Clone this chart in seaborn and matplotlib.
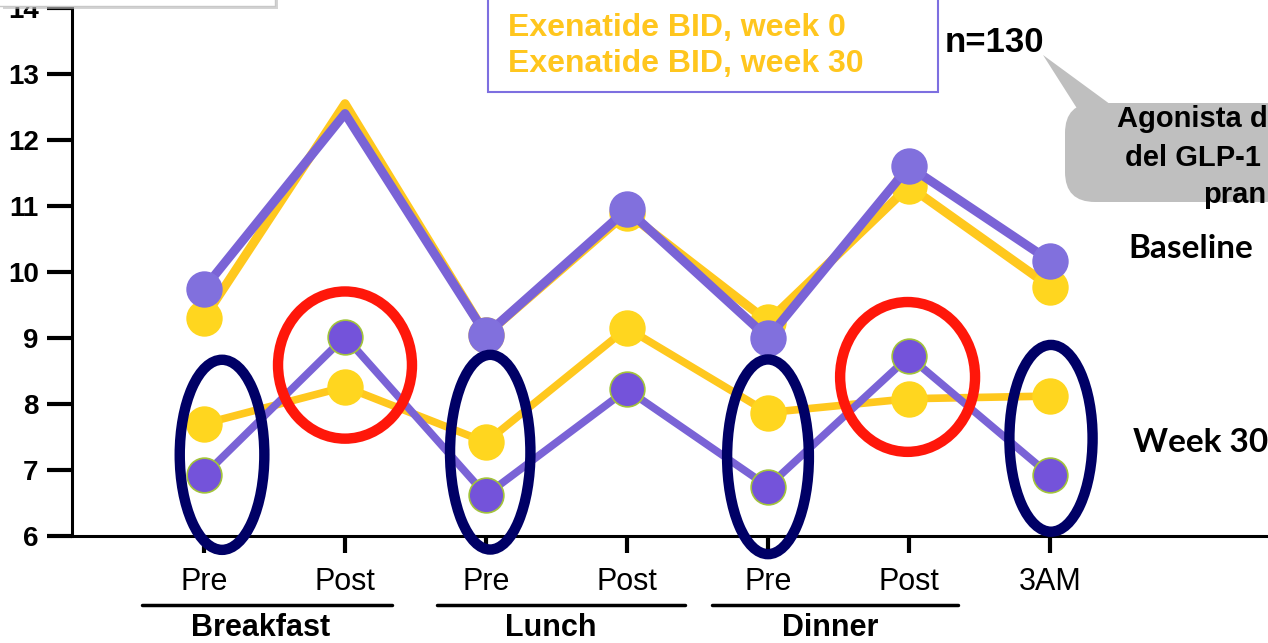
import numpy as np
import pandas as pd
import seaborn as sns
import matplotlib
matplotlib.use("Agg")
import matplotlib.pyplot as plt
from matplotlib.patches import Ellipse, Rectangle, FancyBboxPatch, Polygon

# ---- data -------------------------------------------------------------
tick_labels = ["Pre", "Post", "Pre", "Post", "Pre", "Post", "3AM"]
meals = ["Breakfast", "Lunch", "Dinner"]
meal_spans = [(-0.44, 1.33), (1.65, 3.41), (3.60, 5.35)]
meal_label_x = [0.40, 2.46, 4.44]

exenatide_w0 = [9.30, 12.55, 9.05, 10.90, 9.25, 11.30, 9.78]
comparator_w0 = [9.75, 12.40, 9.05, 10.95, 9.00, 11.60, 10.17]
exenatide_w30 = [7.70, 8.26, 7.42, 9.15, 7.87, 8.08, 8.12]
comparator_w30 = [6.92, 9.02, 6.62, 8.22, 6.75, 8.72, 6.92]

y_ticks = [6, 7, 8, 9, 10, 11, 12, 13, 14]

positions = np.arange(len(tick_labels))
df = pd.DataFrame({
    "pos": np.tile(positions, 4),
    "glucose": exenatide_w0 + comparator_w0 + exenatide_w30 + comparator_w30,
    "series": (["exe_w0"] * 7 + ["comp_w0"] * 7 + ["exe_w30"] * 7 + ["comp_w30"] * 7),
})

# ---- style ------------------------------------------------------------
sns.set_theme(style="white")
plt.rcParams["font.family"] = ["Liberation Sans", "DejaVu Sans"]

W, H, DPI = 1268, 643, 100
fig = plt.figure(figsize=(W / DPI, H / DPI), dpi=DPI)
fig.patch.set_facecolor("white")

# axes: left spine at x=72px, x-axis at y=536px, running to the right/top edges
ax = fig.add_axes([72 / W, 1 - 536 / H, 1 - 72 / W, 536 / H])
ax.set_facecolor("white")

yellow_line = "#FFC81E"
yellow_dot = "#FFD61F"
purple_line = "#7A63D6"
purple_dot0 = "#8170DD"
purple_dot30 = "#7453DA"

styles = {
    "exe_w0": dict(color=yellow_line, mfc=yellow_dot, mec=yellow_dot, lw=6.5, z=2, every=[0, 2, 3, 4, 5, 6]),
    "comp_w0": dict(color=purple_line, mfc=purple_dot0, mec=purple_dot0, lw=6.5, z=3, every=[0, 2, 3, 4, 5, 6]),
    "exe_w30": dict(color=yellow_line, mfc=yellow_dot, mec=yellow_dot, lw=5.5, z=4, every=None),
    "comp_w30": dict(color=purple_line, mfc=purple_dot30, mec="#A3C43A", lw=5.5, z=5, every=None),
}

for name, st in styles.items():
    sub = df[df["series"] == name]
    sns.lineplot(data=sub, x="pos", y="glucose", ax=ax, color=st["color"],
                 linewidth=st["lw"], marker="o", markersize=25,
                 markerfacecolor=st["mfc"], markeredgecolor=st["mec"],
                 markeredgewidth=1.2, markevery=st["every"], zorder=st["z"],
                 legend=False)

# ---- axes -------------------------------------------------------------
ax.set_xlim((72 - 204) / 141, (W - 204) / 141)
ax.set_ylim(6, 14 + 8 / 66)
ax.set_xticks(positions)
ax.set_xticklabels(tick_labels, fontsize=22)
ax.set_yticks(y_ticks)
ax.set_yticklabels([str(v) for v in y_ticks], fontsize=20, fontweight="bold")
ax.set_xlabel("")
ax.set_ylabel("")
for s in ["top", "right"]:
    ax.spines[s].set_visible(False)
for s in ["left", "bottom"]:
    ax.spines[s].set_color("black")
    ax.spines[s].set_linewidth(2.2)
ax.tick_params(axis="y", direction="out", length=18, width=3, pad=6, colors="black", left=True)
ax.tick_params(axis="x", direction="out", length=12, width=3, pad=10, colors="black", bottom=True)
ax.grid(False)

# meal group underlines and labels
blend = ax.get_xaxis_transform()
for (x0, x1), lab, lx in zip(meal_spans, meals, meal_label_x):
    ax.plot([x0, x1], [-0.129, -0.129], transform=blend, color="black", lw=2.5, clip_on=False)
    ax.text(lx, -0.172, lab, transform=blend, ha="center", va="center",
            fontsize=22, fontweight="bold", color="black")

# highlight rings
navy = "#000066"
for cx, cy, w, h in [(0.128, 7.23, 0.60, 2.88), (2.03, 7.27, 0.57, 2.95),
                     (4.00, 7.20, 0.58, 2.95), (6.007, 7.48, 0.59, 2.83)]:
    ax.add_patch(Ellipse((cx, cy), w, h, fill=False, ec=navy, lw=7.5, zorder=10, clip_on=False))
for cx, cy, w, h in [(1.0, 8.59, 0.95, 2.23), (4.99, 8.41, 0.957, 2.27)]:
    ax.add_patch(Ellipse((cx, cy), w, h, fill=False, ec="#FF170A", lw=7.5, zorder=10, clip_on=False))

# ---- figure-level annotations (pixel positions, y from top) ---------------
inch = fig.dpi_scale_trans


def P(x, y):
    return (x / DPI, (H - y) / DPI)


# partially visible box at top-left
fig.patches.append(Rectangle(P(3, 9), 2.75, 0.2, transform=inch, fc="#b8b8b8", ec="none", zorder=1, alpha=0.6))
fig.patches.append(Rectangle(P(-5, 6), 2.80, 0.2, transform=inch, fc="white", ec="#c8c8c8", lw=1, zorder=2))

# legend box
fig.patches.append(Rectangle(P(488, 92), 4.50, 1.0, transform=inch, fc="white", ec="#7D6FE0", lw=1.5, zorder=2))
fig.text(508 / W, 1 - 28 / H, "Exenatide BID, week 0", color="#FFC61E", fontsize=23,
         fontweight="bold", ha="left", va="center", zorder=3)
fig.text(508 / W, 1 - 64 / H, "Exenatide BID, week 30", color="#FFC61E", fontsize=23,
         fontweight="bold", ha="left", va="center", zorder=3)
fig.lines.append(plt.Line2D([921 / W, 921 / W], [1 - 13 / H, 1 - 77 / H], transform=fig.transFigure,
                            color="black", lw=3))
fig.text(945 / W, 1 - 43 / H, "n=130", color="black", fontsize=25, fontweight="bold",
         ha="left", va="center")

# callout bubble (runs past the right edge of the slide)
fig.patches.append(FancyBboxPatch(P(1065, 202), 4.3, 0.99, transform=inch,
                                  boxstyle="round,pad=0,rounding_size=0.3",
                                  fc="#BFBFBF", ec="none", zorder=2))
fig.patches.append(Polygon([P(1043, 55), P(1078, 110), P(1118, 110)], closed=True,
                           transform=inch, fc="#BFBFBF", ec="none", zorder=2))
for txt, x, y in [("Agonista d", 1117, 119), ("del GLP-1", 1125, 158), ("pran", 1203, 195)]:
    fig.text(x / W, 1 - y / H, txt, color="black", fontsize=21, fontweight="bold",
             ha="left", va="center", zorder=3)

# side labels
fig.text(1128 / W, 1 - 248 / H, "Baseline", family=["Lato", "DejaVu Sans"], fontsize=24,
         fontweight="bold", ha="left", va="center", color="black")
fig.text(1133 / W, 1 - 442 / H, "Week 30", family=["Lato", "DejaVu Sans"], fontsize=24,
         fontweight="bold", ha="left", va="center", color="black")

fig.savefig("out.png", dpi=DPI, facecolor="white")
